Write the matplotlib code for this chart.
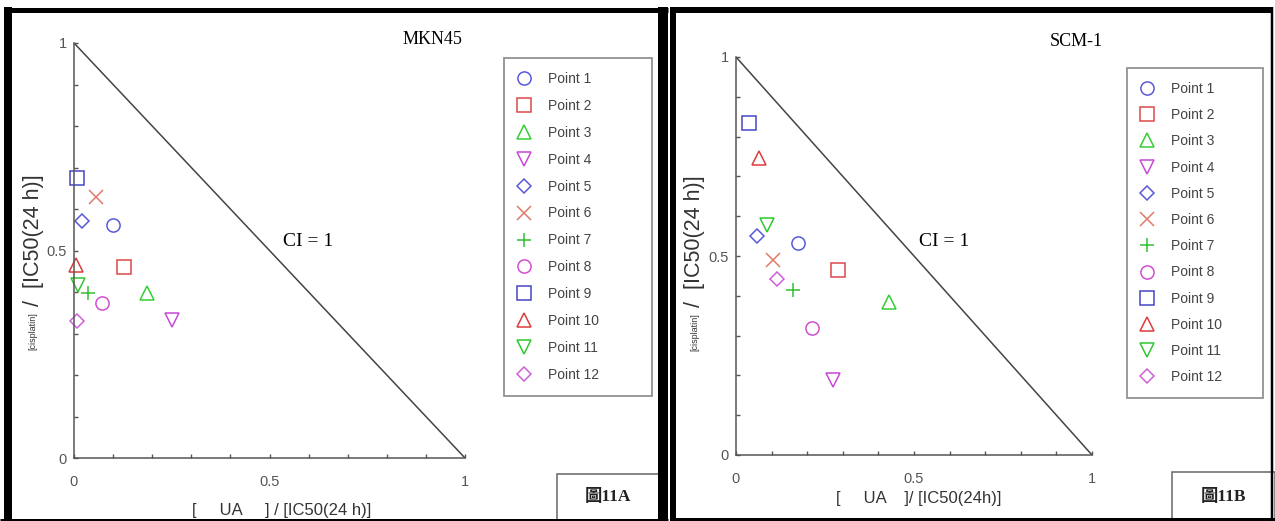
import matplotlib
matplotlib.use('Agg')
import matplotlib.pyplot as plt
from matplotlib.lines import Line2D
from matplotlib.patches import Rectangle
from matplotlib import font_manager

W, H = 1275, 521

# --- dados ---
labels = ['Point 1', 'Point 2', 'Point 3', 'Point 4', 'Point 5', 'Point 6',
          'Point 7', 'Point 8', 'Point 9', 'Point 10', 'Point 11', 'Point 12']

# MKN45
mkn_x = [0.10, 0.128, 0.186, 0.25, 0.02, 0.056, 0.037, 0.072, 0.007, 0.005, 0.011, 0.008]
mkn_y = [0.561, 0.461, 0.397, 0.333, 0.572, 0.628, 0.397, 0.374, 0.674, 0.465, 0.417, 0.331]

# SCM-1
scm_x = [0.175, 0.287, 0.431, 0.273, 0.06, 0.103, 0.161, 0.214, 0.037, 0.066, 0.086, 0.116]
scm_y = [0.532, 0.465, 0.385, 0.188, 0.55, 0.49, 0.415, 0.318, 0.833, 0.745, 0.578, 0.441]

cores = ['#5a5ad8', '#dc4a4a', '#34cf34', '#c848d8', '#5a5ad8', '#e07a6a',
         '#30c030', '#d050d0', '#4646c8', '#dc3c3c', '#30c830', '#d060d8']
marcadores = ['o', 's', '^', 'v', 'D', 'x', '+', 'o', 's', '^', 'v', 'D']
tamanhos = [9.5, 9.5, 10, 10, 6.8, 9.5, 9.5, 9.5, 9.5, 10, 10, 6.8]

installed = {f.name for f in font_manager.fontManager.ttflist}
SANS = 'Liberation Sans Narrow' if 'Liberation Sans Narrow' in installed else 'Liberation Sans'
SERIF = 'Liberation Serif'


def fx(x):
    return x / W


def fy(y):
    return 1 - y / H


def linha(x0, y0, x1, y1, lw_px, cor='black'):
    fig.add_artist(Line2D([fx(x0), fx(x1)], [fy(y0), fy(y1)], transform=fig.transFigure,
                          color=cor, lw=lw_px * 0.72, solid_capstyle='butt', zorder=10))


def painel(ax_px, xs, ys, titulo, tit_px, ci_px, leg_px, lspace, ylab_px, xlab_px, xlab_txt,
           xlab_fs):
    l, t, r, b = ax_px
    ax = fig.add_axes([fx(l), fy(b), fx(r - l), (b - t) / H])
    ax.plot([0, 1], [1, 0], color='#444444', lw=1.1)
    for i in range(len(labels)):
        ax.plot(xs[i], ys[i], ls='none', marker=marcadores[i], ms=tamanhos[i],
                mfc='none', mec=cores[i], mew=1.1, label=labels[i], clip_on=False)
    ax.set_xlim(0, 1)
    ax.set_ylim(0, 1)
    for s in ['top', 'right']:
        ax.spines[s].set_visible(False)
    for s in ['left', 'bottom']:
        ax.spines[s].set_color('#555555')
        ax.spines[s].set_linewidth(1.1)
    ax.set_xticks([0, 0.5, 1])
    ax.set_yticks([0, 0.5, 1])
    ax.set_xticklabels(['0', '0.5', '1'])
    ax.set_yticklabels(['0', '0.5', '1'])
    ax.set_xticks([i / 10 for i in range(11)], minor=True)
    ax.set_yticks([i / 10 for i in range(11)], minor=True)
    ax.tick_params(which='both', direction='in', length=3, width=1, color='#555555')
    ax.tick_params(axis='x', pad=12, labelsize=10.5, labelcolor='#555555')
    ax.tick_params(axis='y', pad=5, labelsize=10.5, labelcolor='#555555')
    for lab in ax.get_xticklabels() + ax.get_yticklabels():
        lab.set_family(SANS)

    fig.text(fx(tit_px[0]), fy(tit_px[1]), titulo, family=SERIF, fontsize=13,
             ha='center', va='center')
    fig.text(fx(ci_px[0]), fy(ci_px[1]), 'CI = 1', family=SERIF, fontsize=14,
             ha='center', va='center')

    # rótulo do eixo y em duas partes
    yx, ysplit = ylab_px
    fig.text(fx(yx), fy(ysplit), '[cisplatin]', family=SANS, fontsize=6.5, rotation=90,
             rotation_mode='anchor', ha='right', va='center', color='#333333')
    fig.text(fx(yx), fy(ysplit), ' /  [IC50(24 h)]', family=SANS, fontsize=15.5, rotation=90,
             rotation_mode='anchor', ha='left', va='center', color='#333333')
    fig.text(fx(xlab_px[0]), fy(xlab_px[1]), xlab_txt, family=SANS,
             fontsize=xlab_fs, ha='center', va='center', color='#333333')

    lx0, ly0, lx1, ly1 = leg_px
    leg = ax.legend(loc='upper left', bbox_to_anchor=(fx(lx0), fy(ly0), fx(lx1 - lx0), 0),
                    bbox_transform=fig.transFigure, mode='expand', numpoints=1,
                    labelspacing=lspace, borderpad=1.0, handlelength=0.9,
                    handletextpad=1.3, borderaxespad=0, fancybox=False,
                    edgecolor='#777777', prop={'family': SANS, 'size': 10})
    leg.get_frame().set_linewidth(1.3)
    for txt in leg.get_texts():
        txt.set_color('#444444')
    return ax


fig = plt.figure(figsize=(W / 100, H / 100), dpi=100)

painel((74, 43, 465, 458), mkn_x, mkn_y, 'MKN45', (432, 40), (308, 242),
       (504, 58, 652, 398), 0.93, (33, 312), (282, 511),
       '[     UA     ] / [IC50(24 h)]', 12)
painel((736, 57, 1092, 455), scm_x, scm_y, 'SCM-1', (1076, 41), (944, 241),
       (1127, 68, 1263, 398), 0.88, (695, 313), (919, 498),
       '[     UA    ]/ [IC50(24h)]', 12)

# caixas "圖11A" / "圖11B"
for (x0, y0, x1), txt in [((557, 474, 659), '圖11A'), ((1172, 472, 1275), '圖11B')]:
    fig.add_artist(Rectangle((fx(x0), fy(521)), fx(x1 - x0), (521 - y0) / H,
                             transform=fig.transFigure, fill=False, ec='#666666',
                             lw=1.1, zorder=9))
    fig.text(fx((x0 + x1) / 2), fy(497), txt, family=[SERIF, 'Noto Sans CJK TC'],
             fontsize=12.5, fontweight='bold', ha='center', va='center', color='#222222')

# molduras pretas dos dois painéis
linha(8, 7, 8, 521, 8)
linha(4, 9.5, 668, 9.5, 5)
linha(663, 7, 663, 521, 10)
linha(0, 519.5, 668, 519.5, 3)
linha(673, 7, 673, 521, 6)
linha(670, 10, 1273, 10, 6)
linha(1271.5, 7, 1271.5, 521, 2.5)
linha(670, 519, 1275, 519, 3)

fig.savefig('out.png', dpi=100)
